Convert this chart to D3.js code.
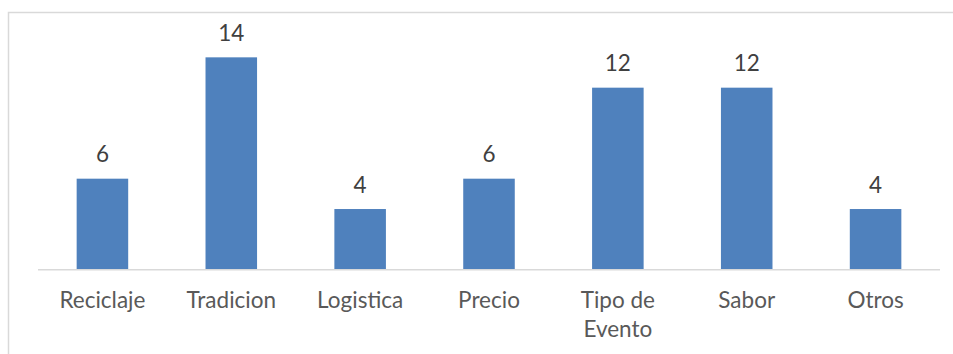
<!DOCTYPE html>
<html>
<head>
<meta charset="utf-8">
<script src="https://cdn.jsdelivr.net/npm/d3@7"></script>
<style>
  html, body { margin: 0; padding: 0; background: #fff; }
  svg { display: block; }
  text { font-family: Lato, "Open Sans", sans-serif; }
</style>
</head>
<body>
<svg id="chart" width="953" height="354"></svg>
<script>
// Responses per category
const categories = ["Reciclaje", "Tradicion", "Logistica", "Precio", "Tipo de Evento", "Sabor", "Otros"];
const counts = [6, 14, 4, 6, 12, 12, 4];
const yDomain = [0, 16];

const W = 953, H = 354;
const plot = { left: 38, right: 940, top: 27, bottom: 269.7 };
const fontSize = 22.5;

const svg = d3.select("#chart");

// Chart frame (left and top edges visible)
svg.append("path")
  .attr("d", `M8.5,${H} L8.5,12.5 L${W},12.5`)
  .attr("fill", "none")
  .attr("stroke", "#d9d9d9")
  .attr("stroke-width", 1.5);

const x = d3.scaleBand()
  .domain(categories)
  .range([plot.left, plot.right])
  .paddingInner(0.6)
  .paddingOuter(0.3);

const y = d3.scaleLinear()
  .domain(yDomain)
  .range([plot.bottom, plot.top]);

// Bars
svg.append("g")
  .selectAll("rect")
  .data(categories)
  .join("rect")
  .attr("x", d => x(d))
  .attr("width", x.bandwidth())
  .attr("y", (d, i) => y(counts[i]))
  .attr("height", (d, i) => y(0) - y(counts[i]))
  .attr("fill", "#4f81bd");

// Value labels
svg.append("g")
  .selectAll("text")
  .data(categories)
  .join("text")
  .attr("x", d => x(d) + x.bandwidth() / 2)
  .attr("y", (d, i) => y(counts[i]) - 16.5)
  .attr("text-anchor", "middle")
  .attr("font-size", fontSize)
  .attr("fill", "#404040")
  .text((d, i) => counts[i]);

// Category axis
const xAxis = svg.append("g")
  .attr("transform", `translate(0,${plot.bottom})`)
  .call(d3.axisBottom(x).tickSize(0).tickPadding(0));

xAxis.select(".domain")
  .attr("d", `M${plot.left},0H${plot.right}`)
  .attr("stroke", "#d9d9d9")
  .attr("stroke-width", 1.5);

xAxis.selectAll(".tick text")
  .attr("font-size", fontSize)
  .attr("font-family", 'Lato, "Open Sans", sans-serif')
  .attr("fill", "#595959")
  .attr("dy", null)
  .attr("y", 38)
  .each(function (d) {
    // wrap long labels to the category step width
    const t = d3.select(this);
    const words = d.split(" ");
    const maxW = x.step() - 12;
    t.text(null);
    let line = [];
    let lines = [];
    let tspan = t.append("tspan").attr("x", 0);
    for (const w of words) {
      line.push(w);
      tspan.text(line.join(" "));
      if (tspan.node().getComputedTextLength() > maxW && line.length > 1) {
        line.pop();
        lines.push(line.join(" "));
        line = [w];
        tspan.text(w);
      }
    }
    lines.push(line.join(" "));
    t.text(null);
    lines.forEach((l, i) => {
      t.append("tspan").attr("x", 0).attr("dy", i === 0 ? 0 : 29).text(l);
    });
  });
</script>
</body>
</html>
